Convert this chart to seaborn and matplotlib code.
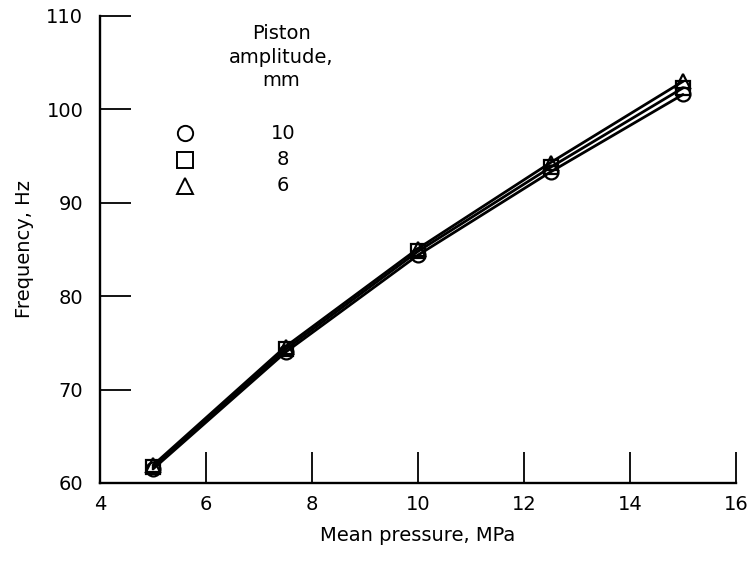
import matplotlib
matplotlib.use("Agg")
import matplotlib.pyplot as plt
import numpy as np
import pandas as pd
import seaborn as sns

# Measured frequency vs mean pressure for three piston amplitudes
pressure = [5.0, 7.5, 10.0, 12.5, 15.0]
freq_10mm = [61.5, 74.0, 84.4, 93.3, 101.6]
freq_8mm = [61.7, 74.3, 84.8, 93.8, 102.3]
freq_6mm = [61.9, 74.6, 85.1, 94.3, 103.0]
amplitudes = ["10", "8", "6"]
markers = ["o", "s", "^"]

sns.set_theme(style="ticks")
plt.rcParams["font.family"] = ["DejaVu Sans"]
plt.rcParams["text.color"] = "black"
plt.rcParams["axes.labelcolor"] = "black"
FS = 14

df = pd.concat([
    pd.DataFrame({"pressure": pressure, "freq": f, "amp": a})
    for f, a in zip([freq_10mm, freq_8mm, freq_6mm], amplitudes)
])

fig = plt.figure(figsize=(7.56, 5.68), dpi=100)
ax = fig.add_axes([100 / 756, 85 / 568, 636 / 756, 467 / 568])

for a, m in zip(amplitudes, markers):
    sub = df[df["amp"] == a]
    sns.lineplot(data=sub, x="pressure", y="freq", ax=ax, color="black",
                 linewidth=2.0, marker=m, markersize=10,
                 markerfacecolor="none", markeredgecolor="black",
                 markeredgewidth=1.6, legend=False)

ax.set_xlim(4, 16)
ax.set_ylim(60, 110)
ax.set_xticks(np.arange(4, 17, 2))
ax.set_yticks(np.arange(60, 111, 10))
ax.tick_params(axis="both", direction="in", length=22, width=1.3,
               labelsize=FS, colors="black")
ax.tick_params(axis="y", pad=12)
ax.tick_params(axis="x", pad=9)
for s in ["top", "right"]:
    ax.spines[s].set_visible(False)
for s in ["left", "bottom"]:
    ax.spines[s].set_linewidth(1.7)
    ax.spines[s].set_color("black")

ax.set_xlabel("Mean pressure, MPa", fontsize=FS, labelpad=8, color="black")
ax.set_ylabel("Frequency, Hz", fontsize=FS, labelpad=9, color="black")

# Key: marker column and amplitude column under a centred heading
ax.text(0.285, 0.912, "Piston\namplitude,\nmm", transform=ax.transAxes,
        ha="center", va="center", fontsize=FS, linespacing=1.3,
        color="black")
for a, m, yk in zip(amplitudes, markers, [0.749, 0.692, 0.636]):
    ax.plot([0.134], [yk], marker=m, markersize=11, markerfacecolor="none",
            markeredgecolor="black", markeredgewidth=1.4, linestyle="none",
            transform=ax.transAxes, clip_on=False)
    ax.text(0.288, yk, a, transform=ax.transAxes, ha="center", va="center",
            fontsize=FS, color="black")

fig.savefig("out.png", dpi=100)
